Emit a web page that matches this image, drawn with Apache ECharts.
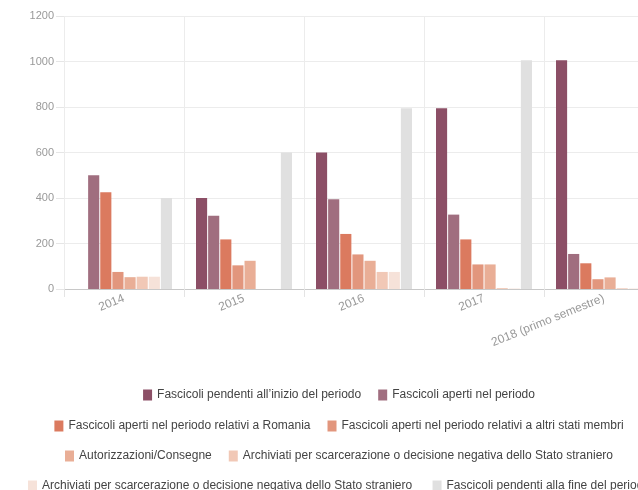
<!DOCTYPE html>
<html>
<head>
<meta charset="utf-8">
<script src="https://cdn.jsdelivr.net/npm/echarts@6/dist/echarts.min.js"></script>
<style>
  html, body { margin: 0; padding: 0; overflow: hidden; background: #fff; }
  #main { width: 678px; height: 490px; }
</style>
</head>
<body>
<div id="main"></div>
<script>
// categorie (anni)
var anni = ['2014', '2015', '2016', '2017', '2018 (primo semestre)'];

// valori
var pendentiInizio = [0, 400, 600, 795, 1005];
var aperti = [500, 322, 395, 327, 154];
var apertiRomania = [425, 218, 242, 218, 113];
var apertiAltri = [75, 104, 152, 108, 43];
var autorizzazioni = [52, 124, 124, 108, 51];
var archiviatiA = [54, 0, 75, 4, 3];
var archiviatiB = [54, 0, 75, 2, 2];
var pendentiFine = [400, 600, 795, 1005, 1000];

var nomi = [
    'Fascicoli pendenti all\u2019inizio del periodo',
    'Fascicoli aperti nel periodo',
    'Fascicoli aperti nel periodo relativi a Romania',
    'Fascicoli aperti nel periodo relativi a altri stati membri',
    'Autorizzazioni/Consegne',
    'Archiviati per scarcerazione o decisione negativa dello Stato straniero',
    // stesso testo, spazio finale per distinguere la serie nella legenda
    'Archiviati per scarcerazione o decisione negativa dello Stato straniero ',
    'Fascicoli pendenti alla fine del periodo'
];
var colori = ['#8c4f66', '#a06e7f', '#db7a5f', '#e2967d', '#e9ae96', '#f1c8b6', '#f6e2d9', '#e0e0e0'];
var valori = [pendentiInizio, aperti, apertiRomania, apertiAltri, autorizzazioni, archiviatiA, archiviatiB, pendentiFine];

var fontFam = 'Liberation Sans, Arial, sans-serif';

var myChart = echarts.init(document.getElementById('main'));

var series = [];
for (var i = 0; i < nomi.length; i++) {
    series.push({
        name: nomi[i],
        type: 'bar',
        data: valori[i],
        itemStyle: { color: colori[i] },
        barGap: '9%',
        barCategoryGap: '20%'
    });
}

// una legenda per riga, due voci ciascuna
var righe = [[0, 1], [2, 3], [4, 5], [6, 7]];
var topRighe = [384, 415, 445, 475];
var legende = righe.map(function (r, k) {
    return {
        data: r.map(function (j) { return nomi[j]; }),
        left: 'center',
        top: topRighe[k],
        itemWidth: 9,
        itemHeight: 11,
        itemGap: 17,
        icon: 'rect',
        selectedMode: false,
        textStyle: { color: '#444', fontSize: 12, fontFamily: fontFam }
    };
});

myChart.setOption({
    animation: false,
    color: colori,
    grid: { left: 64, top: 16, width: 600, bottom: 201 },
    legend: legende,
    xAxis: {
        type: 'category',
        data: anni,
        axisLine: { lineStyle: { color: '#c8c8c8' } },
        axisTick: { show: true, length: 8, lineStyle: { color: '#e4e4e4' } },
        splitLine: { show: true, lineStyle: { color: '#ececec' } },
        axisLabel: {
            rotate: 22,
            margin: 9,
            color: '#999',
            fontSize: 12,
            fontFamily: fontFam
        }
    },
    yAxis: {
        type: 'value',
        min: 0,
        max: 1200,
        interval: 200,
        axisLine: { show: false },
        axisTick: { show: true, length: 8, lineStyle: { color: '#e6e6e6' } },
        splitLine: { lineStyle: { color: '#ececec' } },
        axisLabel: {
            color: '#999',
            fontSize: 11,
            margin: 10,
            fontFamily: fontFam,
            formatter: function (v) { return String(v); }
        }
    },
    series: series
});
</script>
</body>
</html>
